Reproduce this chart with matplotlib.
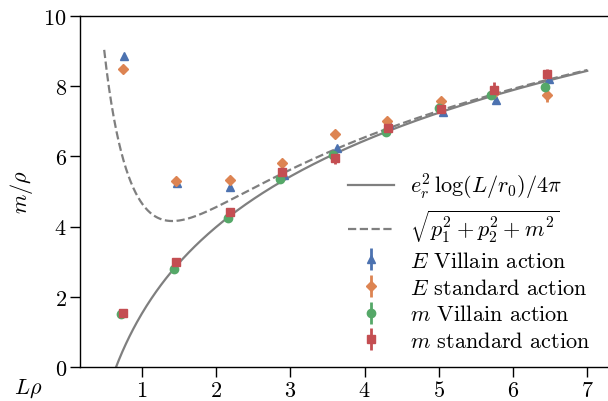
import numpy as np
import matplotlib
matplotlib.use('Agg')
import matplotlib.pyplot as plt

plt.rcParams['font.family'] = 'serif'
plt.rcParams['font.serif'] = ['cmr10']
plt.rcParams['mathtext.fontset'] = 'cm'
plt.rcParams['axes.formatter.use_mathtext'] = True

# measured points (x = L*rho, y = mass/rho)
x_e_villain = [0.757, 1.47, 2.19, 2.91, 3.624, 4.333, 5.05, 5.77, 6.485]
y_e_villain = [8.86, 5.25, 5.14, 5.46, 6.24, 6.93, 7.26, 7.60, 8.21]
err_e_villain = [0.05, 0.05, 0.05, 0.05, 0.06, 0.08, 0.06, 0.08, 0.08]

x_e_standard = [0.744, 1.458, 2.186, 2.887, 3.60, 4.306, 5.026, 5.744, 6.46]
y_e_standard = [8.49, 5.29, 5.32, 5.80, 6.65, 7.00, 7.57, 7.82, 7.76]
err_e_standard = [0.05, 0.05, 0.05, 0.06, 0.06, 0.08, 0.08, 0.15, 0.2]

x_m_villain = [0.713, 1.425, 2.154, 2.856, 3.57, 4.288, 5.00, 5.71, 6.43]
y_m_villain = [1.50, 2.79, 4.25, 5.35, 6.03, 6.70, 7.38, 7.74, 7.99]
err_m_villain = [0.03, 0.04, 0.05, 0.05, 0.06, 0.06, 0.08, 0.08, 0.1]

x_m_standard = [0.74, 1.454, 2.186, 2.887, 3.60, 4.31, 5.026, 5.744, 6.46]
y_m_standard = [1.55, 2.98, 4.42, 5.56, 5.96, 6.80, 7.34, 7.88, 8.35]
err_m_standard = [0.04, 0.05, 0.05, 0.08, 0.18, 0.15, 0.1, 0.25, 0.15]

# theory curves: slope, r0 and momentum term
coulomb_slope = 3.55
coulomb_r0 = 0.65
momentum_c = 4.4

grey = '#7f7f7f'
blue, orange, green, red = '#4C72B0', '#DD8452', '#55A868', '#C44E52'
FS = 16

fig = plt.figure(figsize=(6.08, 4.02), dpi=100)
ax = fig.add_axes([80 / 608, 34 / 402, 544.3 / 608, 351 / 402])

xs = np.linspace(0.49, 7.0, 400)
m_theory = coulomb_slope * np.log(xs / coulomb_r0)
e_theory = np.sqrt((momentum_c / xs) ** 2 + m_theory ** 2)

h1, = ax.plot(xs, m_theory, '-', color=grey, lw=1.6)
h2, = ax.plot(xs, e_theory, '--', color=grey, lw=1.6)

kw = dict(ls='none', ms=6, elinewidth=2, capsize=0)
h3 = ax.errorbar(x_e_villain, y_e_villain, yerr=err_e_villain, fmt='^',
                 color=blue, **kw)
h4 = ax.errorbar(x_e_standard, y_e_standard, yerr=err_e_standard, fmt='D',
                 color=orange, ms=5.5, elinewidth=2, capsize=0, ls='none')
h5 = ax.errorbar(x_m_villain, y_m_villain, yerr=err_m_villain, fmt='o',
                 color=green, **kw)
h6 = ax.errorbar(x_m_standard, y_m_standard, yerr=err_m_standard, fmt='s',
                 color=red, **kw)

ax.set_xlim(0.164, 7.5)
ax.set_ylim(0, 10)
ax.set_xticks([1, 2, 3, 4, 5, 6, 7])
ax.set_yticks([0, 2, 4, 6, 8, 10])
ax.tick_params(labelsize=FS, length=7, width=1.0, pad=2.5)
for s in ax.spines.values():
    s.set_linewidth(1.0)

ax.set_ylabel(r'$m/\rho$', fontsize=FS, labelpad=6)
ax.set_xlabel(r'$L\rho$', fontsize=FS)
ax.xaxis.set_label_coords(-0.095, -0.028)

ax.legend([h1, h2, h3, h4, h5, h6],
          [r'$e_r^2\,\log(L/r_0)/4\pi$', r'$\sqrt{p_1^2+p_2^2+m^2}$',
           r'$E$ Villain action', r'$E$ standard action',
           r'$m$ Villain action', r'$m$ standard action'],
          loc='lower right', bbox_to_anchor=(1.0, 0.08),
          bbox_transform=fig.transFigure, frameon=False, fontsize=FS,
          handlelength=2.1, handletextpad=0.7, labelspacing=0.3,
          borderpad=0.3)

fig.savefig('out.png', dpi=100)
